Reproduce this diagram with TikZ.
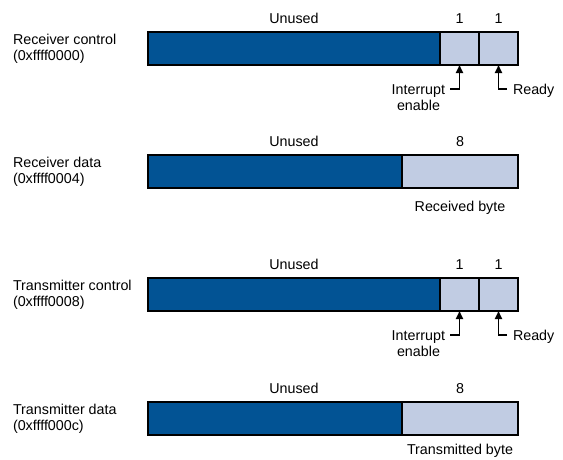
\documentclass[tikz,border=0pt]{standalone}
\usepackage{fontspec}
\setmainfont{Liberation Sans}
\usetikzlibrary{arrows.meta}
\definecolor{regdark}{RGB}{2,83,148}
\definecolor{reglight}{RGB}{193,204,227}
\begin{document}
\begin{tikzpicture}[x=1pt,y=-1pt,
  field/.style={draw=black, line width=1.5pt, inner sep=0pt, outer sep=0pt, anchor=north west, minimum height=33pt},
  darkf/.style={field, fill=regdark},
  lightf/.style={field, fill=reglight},
  txt/.style={font=\fontsize{14.3}{16}\selectfont, inner sep=0pt, outer sep=0pt},
  ptr/.style={line width=1.7pt, -{Triangle[length=8pt,width=7pt]}}
]
\useasboundingbox (0,0) rectangle (563,459);

% ---------- Receiver control ----------
\node[txt, anchor=base west] (rcl1) at (13,44) {Receiver control};
\node[txt, anchor=base west] (rcl2) at (13,60) {(0xffff0000)};
\node[darkf, minimum width=292pt] (rcu) at (148,32) {};
\node[lightf, minimum width=39pt] (rci) at (440,32) {};
\node[lightf, minimum width=39pt] (rcr) at (479,32) {};
\node[txt, anchor=base] (rcun) at (294,23) {Unused};
\node[txt, anchor=base] (rcn1) at (rci.north |- 0,23) {1};
\node[txt, anchor=base] (rcn2) at (rcr.north |- 0,23) {1};
\coordinate (rcie) at (450,89);
\coordinate (rcrd) at (507,89);
\draw[ptr] (rcie) -| (rci.south);
\draw[ptr] (rcrd) -| (rcr.south);
\node[txt, anchor=base east] (rcit1) at (445,94) {Interrupt};
\node[txt, anchor=base] (rcit2) at (418.5,110) {enable};
\node[txt, anchor=base west] (rcrt) at (513,94) {Ready};

% ---------- Receiver data ----------
\node[txt, anchor=base west] (rdl1) at (13,167) {Receiver data};
\node[txt, anchor=base west] (rdl2) at (13,183) {(0xffff0004)};
\node[darkf, minimum width=254pt] (rdu) at (148,155) {};
\node[lightf, minimum width=116pt] (rdb) at (402,155) {};
\node[txt, anchor=base] (rdun) at (294,146) {Unused};
\node[txt, anchor=base] (rdn) at (rdb.north |- 0,146) {8};
\node[txt, anchor=base] (rdbt) at (rdb.south |- 0,211) {Received byte};

% ---------- Transmitter control ----------
\node[txt, anchor=base west] (tcl1) at (13,290) {Transmitter control};
\node[txt, anchor=base west] (tcl2) at (13,306) {(0xffff0008)};
\node[darkf, minimum width=292pt] (tcu) at (148,278) {};
\node[lightf, minimum width=39pt] (tci) at (440,278) {};
\node[lightf, minimum width=39pt] (tcr) at (479,278) {};
\node[txt, anchor=base] (tcun) at (294,269) {Unused};
\node[txt, anchor=base] (tcn1) at (tci.north |- 0,269) {1};
\node[txt, anchor=base] (tcn2) at (tcr.north |- 0,269) {1};
\coordinate (tcie) at (450,335);
\coordinate (tcrd) at (507,335);
\draw[ptr] (tcie) -| (tci.south);
\draw[ptr] (tcrd) -| (tcr.south);
\node[txt, anchor=base east] (tcit1) at (445,340) {Interrupt};
\node[txt, anchor=base] (tcit2) at (418.5,356) {enable};
\node[txt, anchor=base west] (tcrt) at (513,340) {Ready};

% ---------- Transmitter data ----------
\node[txt, anchor=base west] (tdl1) at (13,414) {Transmitter data};
\node[txt, anchor=base west] (tdl2) at (13,430) {(0xffff000c)};
\node[darkf, minimum width=254pt] (tdu) at (148,402) {};
\node[lightf, minimum width=116pt] (tdb) at (402,402) {};
\node[txt, anchor=base] (tdun) at (294,393) {Unused};
\node[txt, anchor=base] (tdn) at (tdb.north |- 0,393) {8};
\node[txt, anchor=base] (tdbt) at (tdb.south |- 0,454.5) {Transmitted byte};
\end{tikzpicture}
\end{document}
